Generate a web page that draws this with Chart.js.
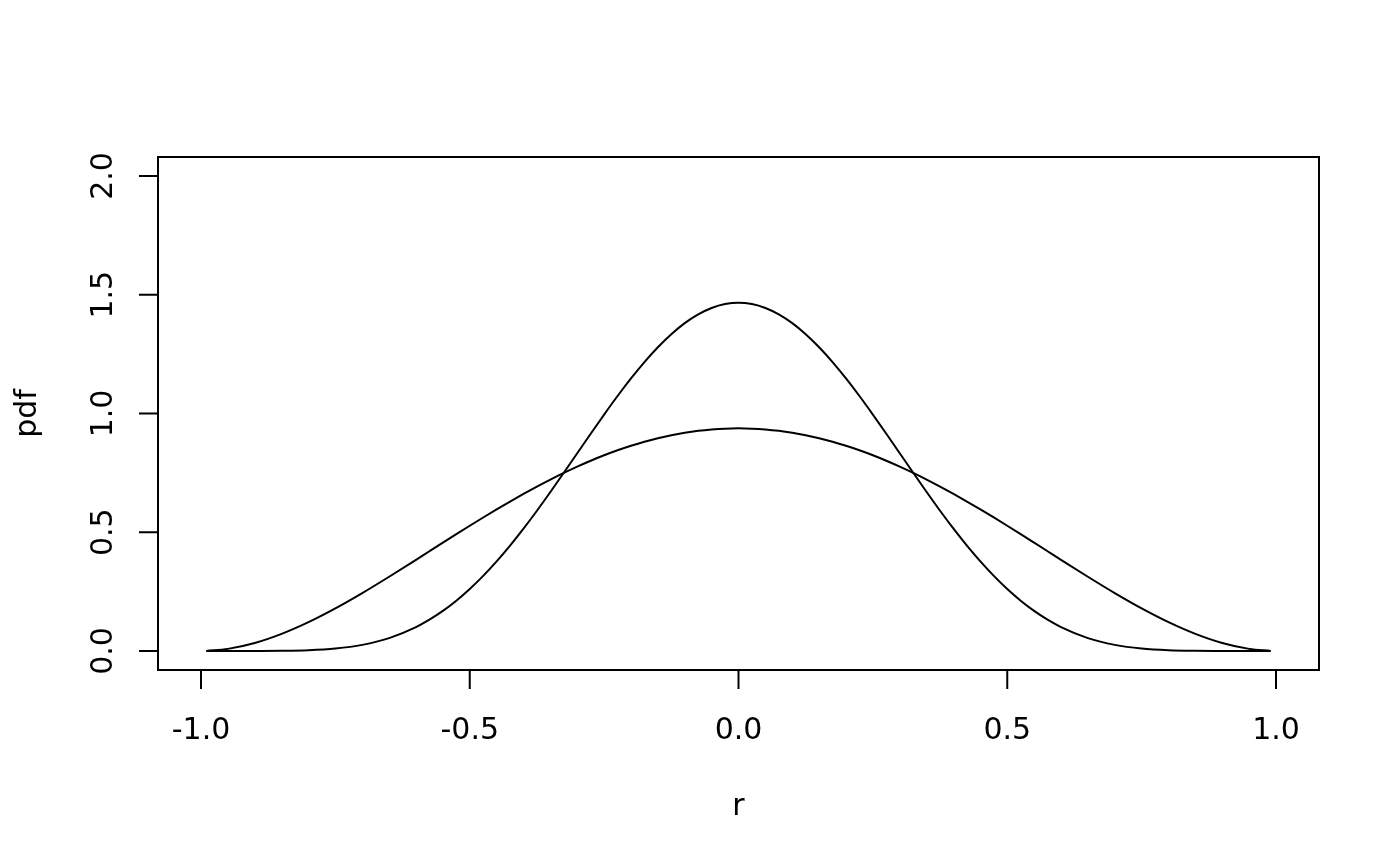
<!DOCTYPE html>
<html>
<head>
<meta charset="utf-8">
<script src="https://cdn.jsdelivr.net/npm/chart.js@4/dist/chart.umd.min.js"></script>
<style>
  html, body { margin: 0; padding: 0; background: #fff; }
  #wrap { width: 1400px; height: 866px; position: relative; }
</style>
</head>
<body>
<div id="wrap"><canvas id="pdfChart"></canvas></div>
<script>
// r values the curves are sampled at (denser in the middle)
const rValues = [
  -0.99, -0.95, -0.90, -0.85, -0.80, -0.75, -0.70, -0.65,
  -0.600, -0.575, -0.550, -0.525, -0.500, -0.475, -0.450, -0.425, -0.400, -0.375,
  -0.350, -0.325, -0.300, -0.275, -0.250, -0.225, -0.200, -0.175, -0.150, -0.125,
  -0.100, -0.075, -0.050, -0.025, 0.000,
  0.025, 0.050, 0.075, 0.100, 0.125, 0.150, 0.175, 0.200, 0.225, 0.250,
  0.275, 0.300, 0.325, 0.350, 0.375, 0.400, 0.425, 0.450, 0.475, 0.500,
  0.525, 0.550, 0.575, 0.600,
  0.65, 0.70, 0.75, 0.80, 0.85, 0.90, 0.95, 0.99
];

// wide curve (peak ~0.94)
const widePdf = [
  0.0004, 0.0089, 0.0338, 0.0722, 0.1215, 0.1794, 0.2438, 0.3127,
  0.3840, 0.4201, 0.4561, 0.4919, 0.5273, 0.5622, 0.5963, 0.6294, 0.6615, 0.6924,
  0.7219, 0.7499, 0.7763, 0.8011, 0.8240, 0.8450, 0.8640, 0.8810, 0.8958, 0.9084,
  0.9188, 0.9270, 0.9328, 0.9363, 0.9375,
  0.9363, 0.9328, 0.9270, 0.9188, 0.9084, 0.8958, 0.8810, 0.8640, 0.8450, 0.8240,
  0.8011, 0.7763, 0.7499, 0.7219, 0.6924, 0.6615, 0.6294, 0.5963, 0.5622, 0.5273,
  0.4919, 0.4561, 0.4201, 0.3840,
  0.3127, 0.2438, 0.1794, 0.1215, 0.0722, 0.0338, 0.0089, 0.0004
];

// narrow curve (peak ~1.47)
const narrowPdf = [
  0.0000, 0.0000, 0.0001, 0.0007, 0.0032, 0.0103, 0.0258, 0.0544,
  0.1008, 0.1319, 0.1688, 0.2118, 0.2610, 0.3162, 0.3772, 0.4437, 0.5151, 0.5906,
  0.6694, 0.7505, 0.8327, 0.9148, 0.9955, 1.0736, 1.1477, 1.2167, 1.2791, 1.3341,
  1.3805, 1.4175, 1.4444, 1.4608, 1.4663,
  1.4608, 1.4444, 1.4175, 1.3805, 1.3341, 1.2791, 1.2167, 1.1477, 1.0736, 0.9955,
  0.9148, 0.8327, 0.7505, 0.6694, 0.5906, 0.5151, 0.4437, 0.3772, 0.3162, 0.2610,
  0.2118, 0.1688, 0.1319, 0.1008,
  0.0544, 0.0258, 0.0103, 0.0032, 0.0007, 0.0001, 0.0000, 0.0000
];

// axis ticks
const xTicks = [-1, -0.5, 0, 0.5, 1];
const xTickLabels = ["-1.0", "-0.5", "0.0", "0.5", "1.0"];
const yTicks = [0, 0.5, 1, 1.5, 2];
const yTickLabels = ["0.0", "0.5", "1.0", "1.5", "2.0"];

const FONT = '30px "DejaVu Sans"';
const LW = 2;

// R style box, axes and labels drawn on top of the hidden Chart.js scales
const baseAxes = {
  id: "baseAxes",
  afterDraw(chart) {
    const ctx = chart.ctx;
    const xs = chart.scales.x;
    const ys = chart.scales.y;
    const a = chart.chartArea;
    ctx.save();
    ctx.strokeStyle = "#000";
    ctx.fillStyle = "#000";
    ctx.lineWidth = LW;

    // box
    ctx.strokeRect(a.left, a.top, a.right - a.left, a.bottom - a.top);

    // x axis
    const x0 = xs.getPixelForValue(xTicks[0]);
    const x1 = xs.getPixelForValue(xTicks[xTicks.length - 1]);
    ctx.beginPath();
    ctx.moveTo(x0, a.bottom);
    ctx.lineTo(x1, a.bottom);
    xTicks.forEach(v => {
      const px = xs.getPixelForValue(v);
      ctx.moveTo(px, a.bottom);
      ctx.lineTo(px, a.bottom + 19);
    });
    ctx.stroke();

    ctx.font = FONT;
    ctx.textAlign = "center";
    ctx.textBaseline = "alphabetic";
    xTicks.forEach((v, i) => {
      ctx.fillText(xTickLabels[i], xs.getPixelForValue(v), 739);
    });
    ctx.fillText("r", (a.left + a.right) / 2, 815);

    // y axis
    const y0 = ys.getPixelForValue(yTicks[0]);
    const y1 = ys.getPixelForValue(yTicks[yTicks.length - 1]);
    ctx.beginPath();
    ctx.moveTo(a.left, y0);
    ctx.lineTo(a.left, y1);
    yTicks.forEach(v => {
      const py = ys.getPixelForValue(v);
      ctx.moveTo(a.left, py);
      ctx.lineTo(a.left - 19, py);
    });
    ctx.stroke();

    yTicks.forEach((v, i) => {
      ctx.save();
      ctx.translate(112, ys.getPixelForValue(v));
      ctx.rotate(-Math.PI / 2);
      ctx.fillText(yTickLabels[i], 0, 0);
      ctx.restore();
    });

    ctx.save();
    ctx.translate(36, (a.top + a.bottom) / 2);
    ctx.rotate(-Math.PI / 2);
    ctx.fillText("pdf", 0, 0);
    ctx.restore();

    ctx.restore();
  }
};

function toPoints(ys) {
  return rValues.map((r, i) => ({ x: r, y: ys[i] }));
}

const lineStyle = {
  borderColor: "#000",
  borderWidth: LW,
  pointRadius: 0,
  fill: false,
  cubicInterpolationMode: "monotone"
};

new Chart(document.getElementById("pdfChart"), {
  type: "line",
  data: {
    datasets: [
      { label: "wide", data: toPoints(widePdf), ...lineStyle },
      { label: "narrow", data: toPoints(narrowPdf), ...lineStyle }
    ]
  },
  options: {
    responsive: true,
    maintainAspectRatio: false,
    animation: false,
    layout: {
      padding: { left: 158, right: 81, top: 157, bottom: 196 }
    },
    scales: {
      x: { type: "linear", min: -1.08, max: 1.08, display: false },
      y: { type: "linear", min: -0.08, max: 2.08, display: false }
    },
    plugins: {
      legend: { display: false },
      tooltip: { enabled: false }
    }
  },
  plugins: [baseAxes]
});
</script>
</body>
</html>
